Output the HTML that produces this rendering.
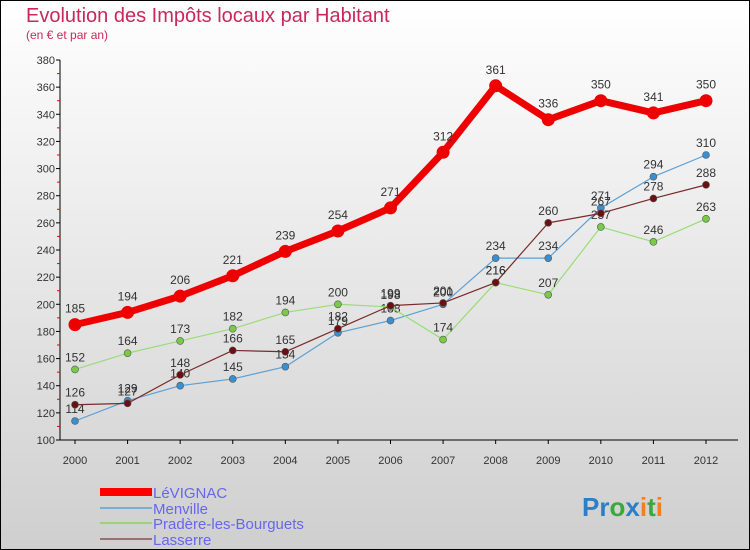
<!DOCTYPE html>
<html><head><meta charset="utf-8"><style>
html,body{margin:0;padding:0}
body{width:750px;height:550px;overflow:hidden;font-family:"Liberation Sans",sans-serif}
svg{display:block}
</style></head><body>
<svg id="chart" width="750" height="550" xmlns="http://www.w3.org/2000/svg">
<defs><linearGradient id="bg" x1="0" y1="0" x2="0" y2="1"><stop offset="0" stop-color="#ffffff"/><stop offset="1" stop-color="#cfcfcf"/></linearGradient></defs>
<rect x="0.5" y="0.5" width="749" height="549" fill="url(#bg)" stroke="#000"/>
<text x="26" y="22" font-size="20" fill="#c8285a">Evolution des Impôts locaux par Habitant</text>
<text x="26" y="39" font-size="12" fill="#c8285a">(en € et par an)</text>
<g id="axes"></g><g id="series"></g>
<g>
<rect x="100" y="488" width="52" height="8" fill="#f00"/>
<text x="153" y="498" font-size="15" fill="#6666ee">LéVIGNAC</text>
<rect x="100" y="507" width="52" height="2" fill="#7aaed0"/>
<text x="153" y="514" font-size="15" fill="#6666ee">Menville</text>
<rect x="100" y="522" width="52" height="2" fill="#9bd37a"/>
<text x="153" y="529" font-size="15" fill="#6666ee">Pradère-les-Bourguets</text>
<rect x="100" y="538" width="52" height="2" fill="#9a7070"/>
<text x="153" y="545" font-size="15" fill="#6666ee">Lasserre</text>
</g>
<text x="582" y="516" font-size="26" font-weight="bold"><tspan fill="#2a7fc8">Pr</tspan><tspan fill="#3aa83a">o</tspan><tspan fill="#2a7fc8">x</tspan><tspan fill="#f08020">i</tspan><tspan fill="#3aa83a">t</tspan><tspan fill="#f08020">i</tspan></text>
</svg>
<script>
const years=[2000,2001,2002,2003,2004,2005,2006,2007,2008,2009,2010,2011,2012];
const levignac=[185,194,206,221,239,254,271,312,361,336,350,341,350];
const menville=[114,129,140,145,154,179,188,200,234,234,271,294,310];
const pradere=[152,164,173,182,194,200,198,174,216,207,257,246,263];
const lasserre=[126,127,148,166,165,182,199,201,216,260,267,278,288];
const yTicks=[100,120,140,160,180,200,220,240,260,280,300,320,340,360,380];
const NS='http://www.w3.org/2000/svg';
const X=i=>75+i*(706-75)/(years.length-1);
const Y=v=>440-(v-100)*(380/280);
function mk(tag,attrs,parent){const e=document.createElementNS(NS,tag);for(const k in attrs)e.setAttribute(k,attrs[k]);parent.appendChild(e);return e;}
const axes=document.getElementById('axes');
const ax=mk('line',{x1:60,y1:60,x2:60,y2:440,stroke:'#000'},axes);


const bx=mk('line',{x1:60,y1:440,x2:738,y2:440,stroke:'#000'},axes);


yTicks.forEach(v=>{
  const t=mk('line',{x1:56,y1:Y(v),x2:60,y2:Y(v),stroke:'#000'},axes);
  
  
  if(v<380){const m=mk('line',{x1:57,y1:Y(v+10),x2:60,y2:Y(v+10),stroke:'#e00'},axes);
  
  }
  const l=mk('text',{x:55,y:Y(v)+4,'font-size':11,fill:'#333','text-anchor':'end'},axes);
  l.textContent=v;
  
  
});
years.forEach((y,i)=>{
  const t=mk('line',{x1:X(i),y1:440,x2:X(i),y2:444,stroke:'#000'},axes);
  
  
  const l=mk('text',{x:X(i),y:464,'font-size':11,fill:'#333','text-anchor':'middle'},axes);
  l.textContent=y;
  
  
});
const sg=document.getElementById('series');
function series(vals,name,color,dot,w,r){
  const g=mk('g',{},sg);
  
  
  const p=mk('polyline',{points:vals.map((v,i)=>X(i)+','+Y(v)).join(' '),fill:'none',stroke:color,'stroke-width':w,'stroke-linejoin':'round'},g);
  
  
  vals.forEach((v,i)=>{
    const c=mk('circle',{cx:X(i),cy:Y(v),r:r,fill:dot,stroke:w>3?'none':'#555','stroke-width':0.6},g);
    
    
    const t=mk('text',{x:X(i),y:Y(v)-(w>3?12:8),'font-size':12,fill:'#333','text-anchor':'middle'},g);
    t.textContent=v;
    
    
  });
}
series(menville,'menville','#5aa0d8','#3a8fd0',1.2,3.5);
series(pradere,'pradere','#99dd77','#77cc44',1.2,3.5);
series(lasserre,'lasserre','#7a2a2a','#6a1010',1.2,3.5);
series(levignac,'levignac','#ee0000','#ee0000',7,6.5);
</script>
</body></html>
